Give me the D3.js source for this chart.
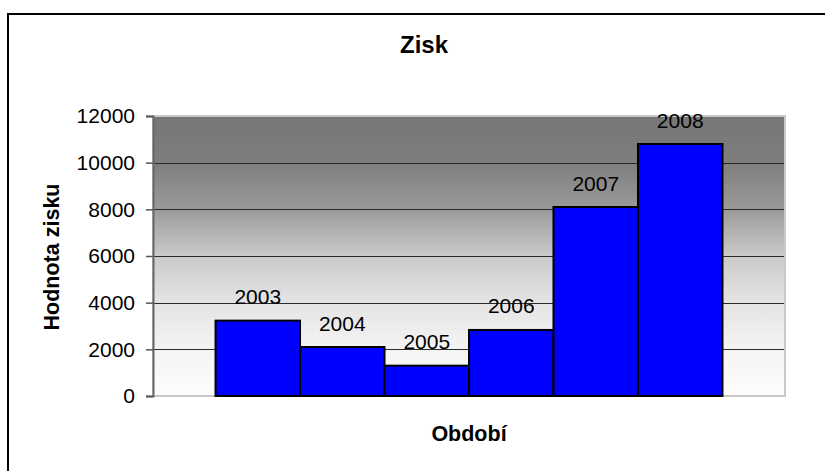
<!DOCTYPE html>
<html>
<head>
<meta charset="utf-8">
<script src="https://cdn.jsdelivr.net/npm/d3@7"></script>
<style>
  html, body { margin: 0; padding: 0; background: #fff; }
  svg { display: block; }
  text { font-family: "Liberation Sans", Arial, sans-serif; }
</style>
</head>
<body>
<svg id="chart" width="825" height="471"></svg>
<script>
const years = ["2003", "2004", "2005", "2006", "2007", "2008"];
const values = [3230, 2100, 1300, 2830, 8100, 10800];
const yTicks = [0, 2000, 4000, 6000, 8000, 10000, 12000];
const chartTitle = "Zisk";
const xTitle = "Období";
const yTitle = "Hodnota zisku";

const svg = d3.select("#chart");
const plot = { left: 153, right: 785, top: 116, bottom: 396 };

// outer border
svg.append("rect")
  .attr("x", 8).attr("y", 14)
  .attr("width", 840).attr("height", 480)
  .attr("fill", "#fff").attr("stroke", "#000").attr("stroke-width", 2);

const defs = svg.append("defs");
const grad = defs.append("linearGradient").attr("id", "bg")
  .attr("x1", 0).attr("y1", 0).attr("x2", 0).attr("y2", 1);
[[0, "#767676"], [0.167, "#7e7e7e"], [0.333, "#9a9a9a"], [0.5, "#cacaca"],
 [0.667, "#e4e4e4"], [0.833, "#f4f4f4"], [1, "#fdfdfd"]].forEach(s =>
  grad.append("stop").attr("offset", s[0]).attr("stop-color", s[1]));

const x = d3.scaleBand().domain(years)
  .range([plot.left, plot.right])
  .paddingInner(0).paddingOuter(0.74);
const y = d3.scaleLinear().domain([0, 12000]).range([plot.bottom, plot.top]);

// plot background
svg.append("rect")
  .attr("x", plot.left).attr("y", plot.top)
  .attr("width", plot.right - plot.left).attr("height", plot.bottom - plot.top)
  .attr("fill", "url(#bg)").attr("stroke", "#c8c8c8").attr("stroke-width", 2);

// gridlines
svg.append("g").selectAll("line")
  .data(yTicks.filter(d => d > 0 && d < 12000))
  .join("line")
  .attr("x1", plot.left).attr("x2", plot.right - 1)
  .attr("y1", d => Math.round(y(d)) + 0.5).attr("y2", d => Math.round(y(d)) + 0.5)
  .attr("stroke", "#2a2a2a").attr("stroke-width", 1.2);

// y axis
const yAxis = d3.axisLeft(y).tickValues(yTicks).tickSize(7).tickPadding(11).tickFormat(d3.format("d"));
const gy = svg.append("g").attr("transform", `translate(${plot.left},0)`).call(yAxis);
gy.select(".domain").attr("stroke", "#666").attr("stroke-width", 2);
gy.selectAll(".tick line").attr("stroke", "#555").attr("stroke-width", 1.5);
gy.selectAll(".tick text")
  .attr("font-size", 21).attr("fill", "#000")
  .attr("font-family", "Liberation Sans, Arial, sans-serif");

// bars
svg.append("g").selectAll("rect")
  .data(years.map((yr, i) => ({ yr, v: values[i] })))
  .join("rect")
  .attr("x", d => x(d.yr))
  .attr("y", d => y(d.v))
  .attr("width", x.bandwidth())
  .attr("height", d => y(0) - y(d.v))
  .attr("fill", "#0000ff")
  .attr("stroke", "#000").attr("stroke-width", 2);

// data labels
svg.append("g").selectAll("text")
  .data(years.map((yr, i) => ({ yr, v: values[i] })))
  .join("text")
  .attr("x", d => x(d.yr) + x.bandwidth() / 2)
  .attr("y", d => y(d.v) - 16.5)
  .attr("text-anchor", "middle")
  .attr("font-size", 21)
  .attr("fill", "#000")
  .text(d => d.yr);

// titles
svg.append("text")
  .attr("x", 424).attr("y", 53)
  .attr("text-anchor", "middle")
  .attr("font-size", 24).attr("font-weight", "bold")
  .text(chartTitle);

svg.append("text")
  .attr("x", 469).attr("y", 441)
  .attr("text-anchor", "middle")
  .attr("font-size", 21.5).attr("font-weight", "bold")
  .text(xTitle);

svg.append("text")
  .attr("transform", "translate(59,257) rotate(-90)")
  .attr("text-anchor", "middle")
  .attr("font-size", 21.5).attr("font-weight", "bold")
  .text(yTitle);
</script>
</body>
</html>
